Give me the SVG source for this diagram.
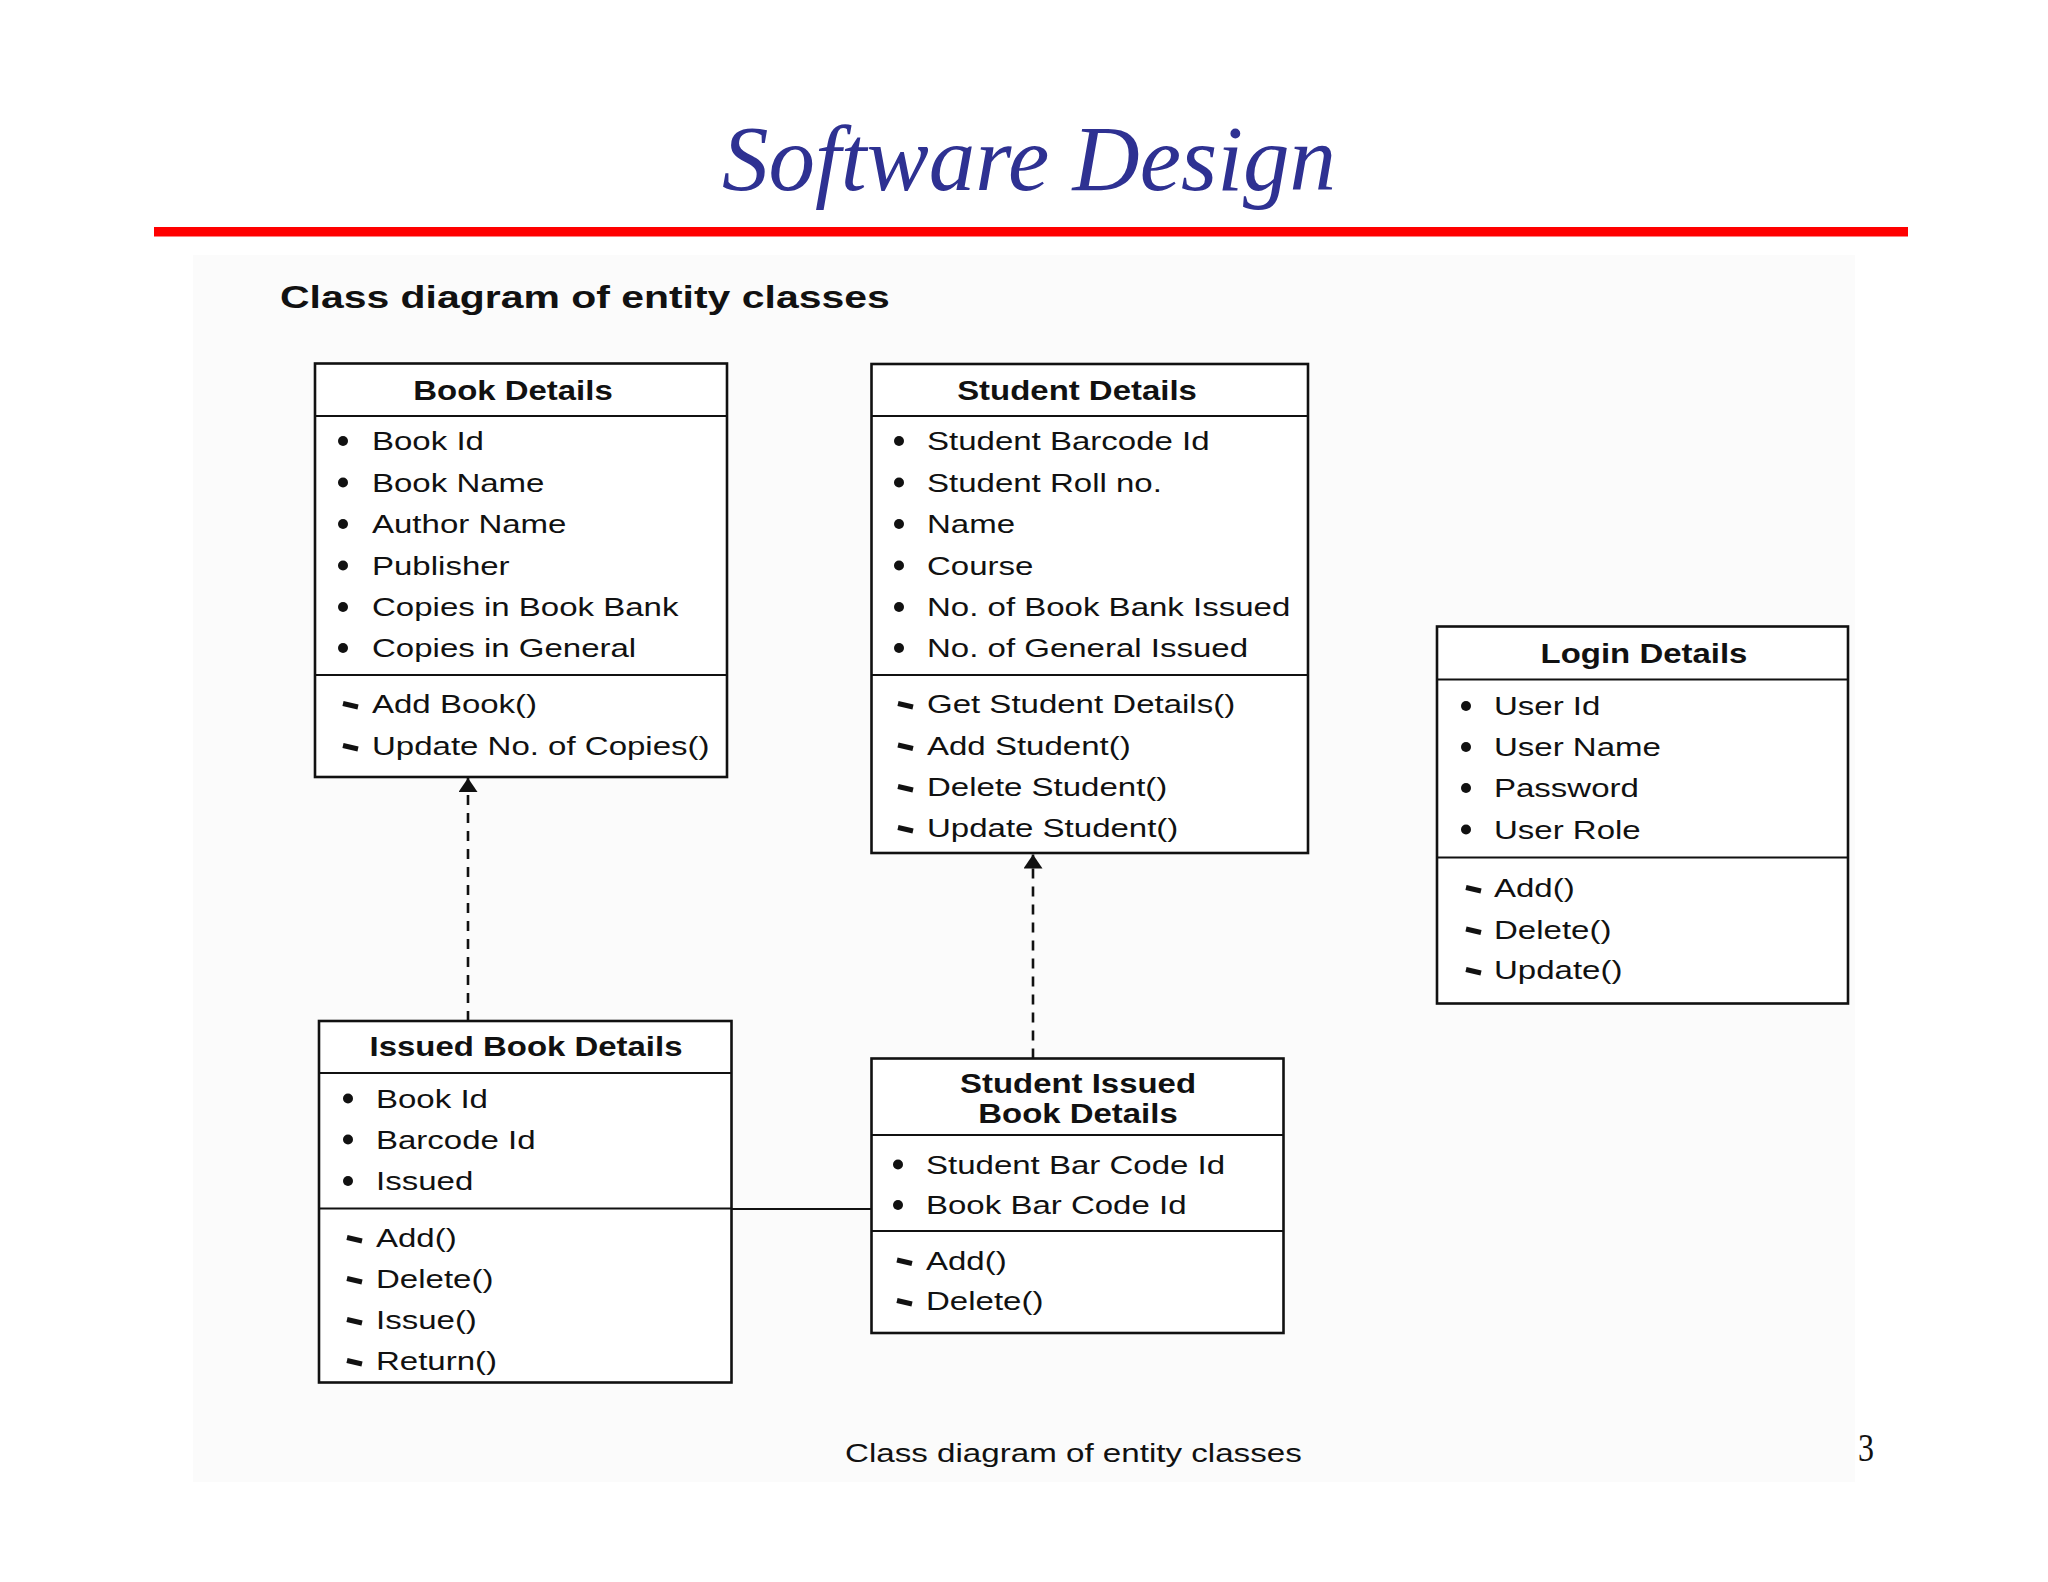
<svg xmlns="http://www.w3.org/2000/svg" width="2048" height="1582" viewBox="0 0 2048 1582">
<style>
.box{fill:#fff;stroke:#111;stroke-width:2.6}
.div{stroke:#111;stroke-width:2.2}
.h{font-family:"Liberation Sans",Arial,sans-serif;font-weight:bold;font-size:27px;fill:#111;text-anchor:middle}
.t{font-family:"Liberation Sans",Arial,sans-serif;font-size:26px;fill:#111}
.b{fill:#111}
.m{stroke:#111;stroke-width:5;stroke-linecap:butt;fill:none}
.dash{stroke:#111;stroke-width:2.6;stroke-dasharray:10 8;fill:none}
.solid{stroke:#111;stroke-width:2.2;fill:none}
</style>
<defs>
<marker id="arrow" viewBox="0 0 14 19" refX="14" refY="9.5" markerWidth="14" markerHeight="19" markerUnits="userSpaceOnUse" orient="auto">
<path d="M0,0 L14,9.5 L0,19 z" fill="#111"/>
</marker>
</defs>
<rect x="0" y="0" width="2048" height="1582" fill="#fff"/>
<rect x="193" y="255" width="1662" height="1227" fill="#fbfbfb"/>
<text x="722" y="190" font-family="'Liberation Serif','DejaVu Serif',serif" font-style="italic" font-size="94" fill="#2E3192" textLength="614" lengthAdjust="spacingAndGlyphs">Software Design</text>
<rect x="154" y="227" width="1754" height="9.5" fill="#ff0000"/>
<text transform="matrix(1.3 0 0 1 280 308)" font-family="'Liberation Sans',Arial,sans-serif" font-weight="bold" font-size="31.5" fill="#111">Class diagram of entity classes</text>

<g id="connectors">
<path class="dash" d="M468,1021 L468,778" marker-end="url(#arrow)"/>
<path class="dash" d="M1033,1058.5 L1033,854.5" marker-end="url(#arrow)"/>
<path class="solid" d="M731.5,1209 L871.5,1209"/>
</g>

<g id="book-details">
<rect class="box" x="315" y="363.5" width="412" height="413.5"/>
<line class="div" x1="315" y1="416" x2="727" y2="416"/>
<line class="div" x1="315" y1="675" x2="727" y2="675"/>
<text class="h" transform="matrix(1.22 0 0 1 513 400)">Book Details</text>
<circle class="b" cx="343" cy="441" r="5"/><text class="t" transform="matrix(1.27 0 0 1 372 450)">Book Id</text>
<circle class="b" cx="343" cy="482.5" r="5"/><text class="t" transform="matrix(1.27 0 0 1 372 491.5)">Book Name</text>
<circle class="b" cx="343" cy="524" r="5"/><text class="t" transform="matrix(1.27 0 0 1 372 533)">Author Name</text>
<circle class="b" cx="343" cy="565.5" r="5"/><text class="t" transform="matrix(1.27 0 0 1 372 574.5)">Publisher</text>
<circle class="b" cx="343" cy="607" r="5"/><text class="t" transform="matrix(1.27 0 0 1 372 616)">Copies in Book Bank</text>
<circle class="b" cx="343" cy="648" r="5"/><text class="t" transform="matrix(1.27 0 0 1 372 657)">Copies in General</text>
<path class="m" d="M343,703.5 L358,707"/><text class="t" transform="matrix(1.27 0 0 1 372 713)">Add Book()</text>
<path class="m" d="M343,745.5 L358,749"/><text class="t" transform="matrix(1.27 0 0 1 372 755)">Update No. of Copies()</text>
</g>

<g id="student-details">
<rect class="box" x="871.5" y="364" width="436.5" height="489"/>
<line class="div" x1="871.5" y1="416" x2="1308" y2="416"/>
<line class="div" x1="871.5" y1="675" x2="1308" y2="675"/>
<text class="h" transform="matrix(1.22 0 0 1 1077 400)">Student Details</text>
<circle class="b" cx="899" cy="441" r="5"/><text class="t" transform="matrix(1.27 0 0 1 927 450)">Student Barcode Id</text>
<circle class="b" cx="899" cy="482.5" r="5"/><text class="t" transform="matrix(1.27 0 0 1 927 491.5)">Student Roll no.</text>
<circle class="b" cx="899" cy="524" r="5"/><text class="t" transform="matrix(1.27 0 0 1 927 533)">Name</text>
<circle class="b" cx="899" cy="565.5" r="5"/><text class="t" transform="matrix(1.27 0 0 1 927 574.5)">Course</text>
<circle class="b" cx="899" cy="607" r="5"/><text class="t" transform="matrix(1.27 0 0 1 927 616)">No. of Book Bank Issued</text>
<circle class="b" cx="899" cy="648" r="5"/><text class="t" transform="matrix(1.27 0 0 1 927 657)">No. of General Issued</text>
<path class="m" d="M898,703.5 L913,707"/><text class="t" transform="matrix(1.27 0 0 1 927 713)">Get Student Details()</text>
<path class="m" d="M898,745 L913,748.5"/><text class="t" transform="matrix(1.27 0 0 1 927 754.5)">Add Student()</text>
<path class="m" d="M898,786.5 L913,790"/><text class="t" transform="matrix(1.27 0 0 1 927 796)">Delete Student()</text>
<path class="m" d="M898,827.5 L913,831"/><text class="t" transform="matrix(1.27 0 0 1 927 837)">Update Student()</text>
</g>

<g id="login-details">
<rect class="box" x="1437" y="626.5" width="411" height="377"/>
<line class="div" x1="1437" y1="679.5" x2="1848" y2="679.5"/>
<line class="div" x1="1437" y1="857.5" x2="1848" y2="857.5"/>
<text class="h" transform="matrix(1.22 0 0 1 1644 663)">Login Details</text>
<circle class="b" cx="1466" cy="706" r="5"/><text class="t" transform="matrix(1.27 0 0 1 1494 715)">User Id</text>
<circle class="b" cx="1466" cy="747" r="5"/><text class="t" transform="matrix(1.27 0 0 1 1494 756)">User Name</text>
<circle class="b" cx="1466" cy="788" r="5"/><text class="t" transform="matrix(1.27 0 0 1 1494 797)">Password</text>
<circle class="b" cx="1466" cy="829.5" r="5"/><text class="t" transform="matrix(1.27 0 0 1 1494 838.5)">User Role</text>
<path class="m" d="M1466,887.5 L1481,891"/><text class="t" transform="matrix(1.27 0 0 1 1494 897)">Add()</text>
<path class="m" d="M1466,929 L1481,932.5"/><text class="t" transform="matrix(1.27 0 0 1 1494 938.5)">Delete()</text>
<path class="m" d="M1466,969.5 L1481,973"/><text class="t" transform="matrix(1.27 0 0 1 1494 979)">Update()</text>
</g>

<g id="issued-book-details">
<rect class="box" x="319" y="1021" width="412.5" height="361.5"/>
<line class="div" x1="319" y1="1073" x2="731.5" y2="1073"/>
<line class="div" x1="319" y1="1208.5" x2="731.5" y2="1208.5"/>
<text class="h" transform="matrix(1.22 0 0 1 526 1056)">Issued Book Details</text>
<circle class="b" cx="348" cy="1098.5" r="5"/><text class="t" transform="matrix(1.27 0 0 1 376 1107.5)">Book Id</text>
<circle class="b" cx="348" cy="1139.5" r="5"/><text class="t" transform="matrix(1.27 0 0 1 376 1148.5)">Barcode Id</text>
<circle class="b" cx="348" cy="1181" r="5"/><text class="t" transform="matrix(1.27 0 0 1 376 1190)">Issued</text>
<path class="m" d="M347,1237.5 L362,1241"/><text class="t" transform="matrix(1.27 0 0 1 376 1247)">Add()</text>
<path class="m" d="M347,1278.5 L362,1282"/><text class="t" transform="matrix(1.27 0 0 1 376 1288)">Delete()</text>
<path class="m" d="M347,1319.5 L362,1323"/><text class="t" transform="matrix(1.27 0 0 1 376 1329)">Issue()</text>
<path class="m" d="M347,1360.5 L362,1364"/><text class="t" transform="matrix(1.27 0 0 1 376 1370)">Return()</text>
</g>

<g id="student-issued-book-details">
<rect class="box" x="871.5" y="1058.5" width="412" height="274.5"/>
<line class="div" x1="871.5" y1="1135" x2="1283.5" y2="1135"/>
<line class="div" x1="871.5" y1="1231" x2="1283.5" y2="1231"/>
<text class="h" transform="matrix(1.22 0 0 1 1078 1092.5)">Student Issued</text>
<text class="h" transform="matrix(1.22 0 0 1 1078 1123)">Book Details</text>
<circle class="b" cx="898" cy="1164.5" r="5"/><text class="t" transform="matrix(1.27 0 0 1 926 1173.5)">Student Bar Code Id</text>
<circle class="b" cx="898" cy="1205" r="5"/><text class="t" transform="matrix(1.27 0 0 1 926 1214)">Book Bar Code Id</text>
<path class="m" d="M897,1260 L912,1263.5"/><text class="t" transform="matrix(1.27 0 0 1 926 1269.5)">Add()</text>
<path class="m" d="M897,1300.5 L912,1304"/><text class="t" transform="matrix(1.27 0 0 1 926 1310)">Delete()</text>
</g>

<text transform="matrix(1.3 0 0 1 845 1461.5)" font-family="'Liberation Sans',Arial,sans-serif" font-size="25.5" fill="#111">Class diagram of entity classes</text>
<text transform="matrix(0.8 0 0 1 1858 1461)" font-family="'Liberation Serif','DejaVu Serif',serif" font-size="40" fill="#111">3</text>
</svg>
